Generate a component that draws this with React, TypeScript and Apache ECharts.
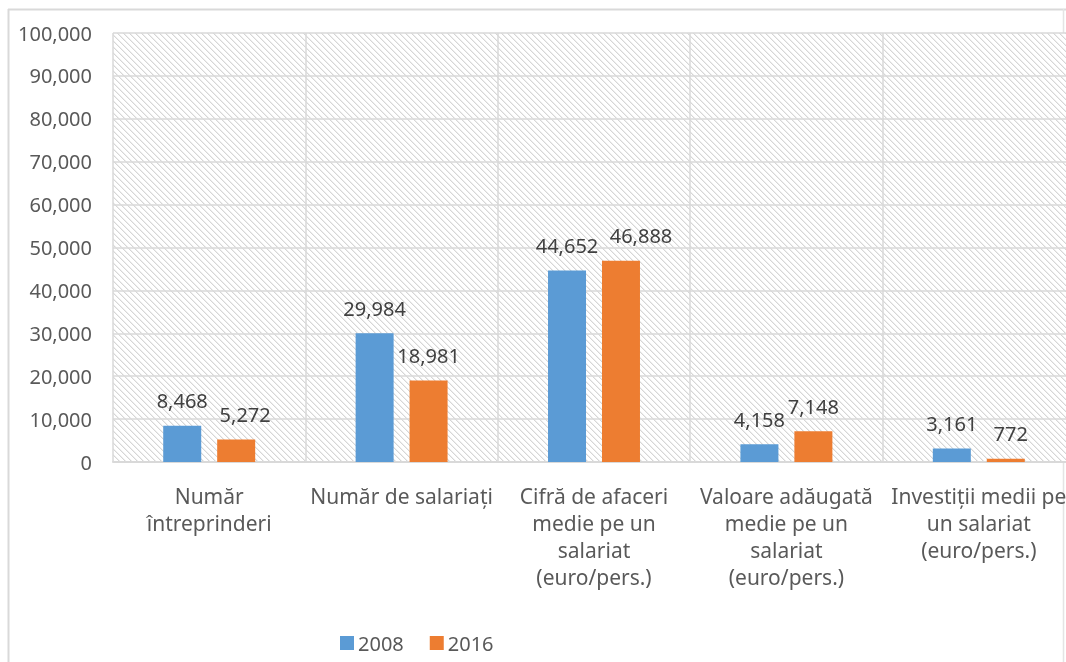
import React, { useEffect, useRef } from "react";
import * as echarts from "echarts";

const categories = [
  "Număr\nîntreprinderi",
  "Număr de salariați",
  "Cifră de afaceri\nmedie pe un\nsalariat\n(euro/pers.)",
  "Valoare adăugată\nmedie pe un\nsalariat\n(euro/pers.)",
  "Investiții medii pe\nun salariat\n(euro/pers.)",
];
const series2008 = [8468, 29984, 44652, 4158, 3161];
const series2016 = [5272, 18981, 46888, 7148, 772];
const seriesNames = ["2008", "2016"];
const yTicks = { min: 0, max: 100000, interval: 10000 };

const FONT = "Noto Sans";

// horizontal nudges of individual data labels, as placed in the original
const labelShift2016: Record<number, number> = { 0: 9, 2: 20, 4: 5 };

function makeHatch(): string {
  const n = 6;
  const c = document.createElement("canvas");
  c.width = n;
  c.height = n;
  const ctx = c.getContext("2d")!;
  ctx.fillStyle = "#ffffff";
  ctx.fillRect(0, 0, n, n);
  const img = ctx.getImageData(0, 0, n, n);
  const set = (x: number, y: number, v: number) => {
    x = ((x % n) + n) % n;
    y = ((y % n) + n) % n;
    const i = (y * n + x) * 4;
    img.data[i] = v;
    img.data[i + 1] = v;
    img.data[i + 2] = v;
    img.data[i + 3] = 255;
  };
  for (let i = 0; i < n; i++) {
    set(i, i, 214);
    set(i + 1, i, 238);
  }
  ctx.putImageData(img, 0, 0);
  return c.toDataURL();
}

export default function App() {
  const ref = useRef<HTMLDivElement>(null);
  useEffect(() => {
    if (!ref.current) return;
    document.documentElement.style.overflow = "hidden";
    document.body.style.margin = "0";
    document.body.style.overflow = "hidden";
    const chart = echarts.init(ref.current, undefined, { renderer: "svg" });
    const hatch = { image: makeHatch(), repeat: "repeat" as const };
    const labelStyle = {
      show: true,
      position: "top" as const,
      distance: 15,
      color: "#404040",
      fontFamily: FONT,
      fontSize: 20,
      formatter: (p: any) => Number(p.value).toLocaleString("en-US"),
    };
    const data2016 = series2016.map((v, i) =>
      labelShift2016[i] ? { value: v, label: { offset: [labelShift2016[i], 0] } } : v
    );
    chart.setOption({
      animation: false,
      textStyle: { fontFamily: FONT },
      graphic: [
        {
          type: "line",
          shape: { x1: 8.5, y1: 9, x2: 8.5, y2: 700 },
          style: { stroke: "#d9d9d9", lineWidth: 2 },
          silent: true,
        },
        {
          type: "line",
          shape: { x1: 8, y1: 9.5, x2: 1100, y2: 9.5 },
          style: { stroke: "#d9d9d9", lineWidth: 2 },
          silent: true,
        },
        {
          type: "line",
          shape: { x1: 1063.5, y1: 9, x2: 1063.5, y2: 700 },
          style: { stroke: "#e4e4e4", lineWidth: 1.5 },
          silent: true,
        },
      ],
      grid: { left: 113, top: 33, width: 962, height: 429, containLabel: false },
      legend: {
        data: seriesNames,
        left: 335,
        top: 628,
        itemWidth: 14,
        itemHeight: 14,
        itemGap: 26,
        icon: "rect",
        textStyle: { color: "#595959", fontSize: 20, fontFamily: FONT, padding: [0, 0, 0, -1] },
      },
      xAxis: {
        type: "category",
        data: categories,
        axisLine: { show: true, lineStyle: { color: "#d9d9d9", width: 2 } },
        axisTick: { show: false },
        splitLine: { show: true, lineStyle: { color: "#d9d9d9", width: 1.5 } },
        axisLabel: {
          color: "#595959",
          fontSize: 21,
          fontFamily: FONT,
          lineHeight: 27,
          margin: 20,
          interval: 0,
          align: "center",
        },
      },
      yAxis: {
        type: "value",
        min: yTicks.min,
        max: yTicks.max,
        interval: yTicks.interval,
        axisLine: { show: false },
        axisTick: { show: false },
        splitLine: { show: true, lineStyle: { color: "#d9d9d9", width: 1.5 } },
        splitArea: { show: true, areaStyle: { color: [hatch, hatch] } },
        axisLabel: {
          color: "#595959",
          fontSize: 20,
          fontFamily: FONT,
          margin: 21,
          formatter: (v: number) => v.toLocaleString("en-US"),
        },
      },
      series: [
        {
          name: seriesNames[0],
          type: "bar",
          data: series2008,
          barWidth: 38,
          barGap: "42%",
          itemStyle: { color: "#5B9BD5" },
          label: labelStyle,
        },
        {
          name: seriesNames[1],
          type: "bar",
          data: data2016,
          barWidth: 38,
          itemStyle: { color: "#ED7D31" },
          label: labelStyle,
        },
      ],
    });
    return () => chart.dispose();
  }, []);
  return (
    <div
      style={{
        position: "fixed",
        left: 0,
        top: 0,
        width: 1066,
        height: 662,
        overflow: "hidden",
      }}
    >
      <div ref={ref} style={{ width: 1100, height: 662 }} />
    </div>
  );
}
